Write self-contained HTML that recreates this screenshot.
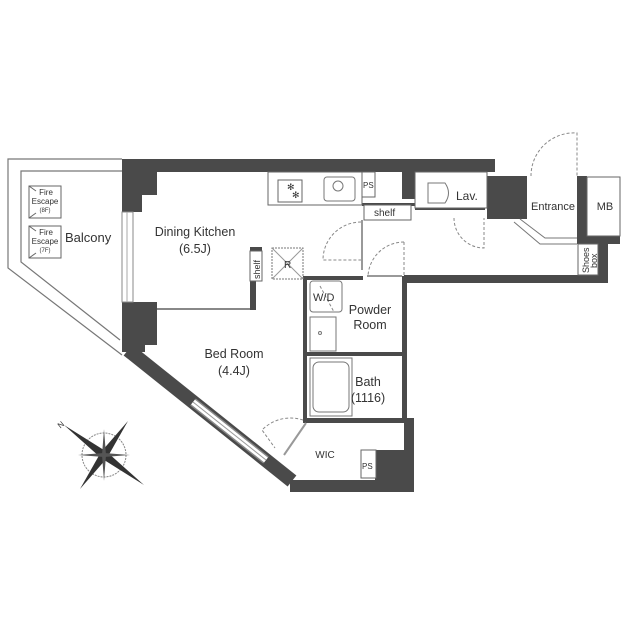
<!DOCTYPE html>
<html><head><meta charset="utf-8"><style>
body{margin:0;background:#fff}
svg{display:block}
text{font-family:"Liberation Sans",sans-serif;fill:#333}
</style></head><body>
<svg width="639" height="640" viewBox="0 0 639 640" xmlns="http://www.w3.org/2000/svg">
<!-- balcony -->
<polyline points="122,159 8,159 8,268 122,355" fill="none" stroke="#777" stroke-width="1.2"/>
<polyline points="122,171 21,171 21,262 120,340" fill="none" stroke="#777" stroke-width="1.2"/>
<g stroke="#666" fill="none" stroke-width="1">
<rect x="29" y="186" width="32" height="32"/><rect x="29" y="226" width="32" height="32"/>
<line x1="29" y1="186" x2="36" y2="191"/><line x1="29" y1="218" x2="36" y2="213"/>
<line x1="29" y1="226" x2="36" y2="231"/><line x1="29" y1="258" x2="36" y2="253"/>
</g>
<g font-size="8" text-anchor="middle" fill="#444"><text x="46" y="195">Fire</text><text x="45" y="204">Escape</text><text x="45" y="212" font-size="6">(8F)</text>
<text x="46" y="235">Fire</text><text x="45" y="244">Escape</text><text x="45" y="252" font-size="6">(7F)</text></g>
<text x="65" y="242" font-size="13">Balcony</text>
<!-- walls -->
<g fill="#4a4a4a">
<rect x="122" y="159" width="373" height="13"/>
<polygon points="122,159 157,159 157,195 142,195 142,212 122,212"/>
<polygon points="487,176 527,176 527,219 487,219"/>
<rect x="402" y="159" width="13" height="40"/>
<polygon points="122,302 157,302 157,345 145,345 145,352 122,352"/>
<rect x="290" y="480" width="124" height="12"/>
<rect x="375" y="450" width="39" height="42"/>
<rect x="404" y="420" width="10" height="72"/>
<rect x="250" y="248" width="6" height="62"/>
<rect x="250" y="247" width="12" height="4"/>
<rect x="303" y="278" width="4" height="145"/>
<rect x="303" y="276" width="60" height="4"/>
<rect x="402" y="276" width="5" height="147"/>
<rect x="303" y="418" width="111" height="5"/>
<rect x="303" y="352" width="104" height="4"/>
<rect x="404" y="275" width="204" height="8"/>
<rect x="577" y="176" width="10" height="62"/>
<rect x="577" y="236" width="43" height="8"/>
<rect x="598" y="236" width="10" height="47"/>
<rect x="415" y="206" width="70" height="4"/>
<rect x="362" y="203" width="53" height="3"/>
</g>
<line x1="128" y1="350" x2="292" y2="481" stroke="#4a4a4a" stroke-width="14"/>
<rect x="587" y="177" width="33" height="59" fill="#fff" stroke="#666"/>
<!-- window left -->
<rect x="122" y="212" width="11" height="90" fill="#fff" stroke="#888"/>
<line x1="127" y1="212" x2="127" y2="302" stroke="#aaa"/>
<!-- partition dining/bed -->
<line x1="157" y1="309" x2="250" y2="309" stroke="#888" stroke-width="2"/>
<!-- diagonal window -->
<line x1="193" y1="402" x2="266" y2="460" stroke="#888" stroke-width="9"/>
<line x1="193" y1="402" x2="266" y2="460" stroke="#fff" stroke-width="6"/>
<line x1="193" y1="402" x2="266" y2="460" stroke="#999" stroke-width="1"/>
<!-- kitchen -->
<rect x="268" y="172" width="94" height="33" fill="#fff" stroke="#666"/>
<rect x="278" y="180" width="24" height="22" fill="none" stroke="#666"/>
<text x="287" y="190" font-size="9">✻</text><text x="292" y="198" font-size="9">✻</text>
<rect x="324" y="177" width="31" height="24" rx="3" fill="none" stroke="#777"/>
<circle cx="338" cy="186" r="5" fill="none" stroke="#777"/>
<rect x="362" y="172" width="13" height="25" fill="#fff" stroke="#666"/>
<text x="363" y="188" font-size="8">PS</text>
<rect x="364" y="205" width="47" height="15" fill="#fff" stroke="#666"/>
<text x="374" y="216" font-size="10">shelf</text>
<rect x="250" y="251" width="12" height="30" fill="#fff" stroke="#666"/>
<text x="0" y="0" font-size="9" transform="translate(260,279) rotate(-90)">shelf</text>
<rect x="272" y="248" width="31" height="31" fill="none" stroke="#777" stroke-dasharray="2,1"/>
<line x1="272" y1="248" x2="303" y2="279" stroke="#999"/><line x1="303" y1="248" x2="272" y2="279" stroke="#999"/>
<text x="284" y="268" font-size="10">R</text>
<!-- doors -->
<g fill="none" stroke="#888" stroke-dasharray="3,2">
<path d="M361,222 A38,38 0 0 0 323,260 L361,260"/>
<path d="M404,242 A36,36 0 0 0 368,276"/>
<line x1="404" y1="242" x2="404" y2="276"/>
<path d="M454,218 A30,30 0 0 0 484,248 L484,218"/>
<path d="M531,176 A43,43 0 0 1 577,133 L577,176"/>
<path d="M303,420 A40,40 0 0 0 262,430 L275,448"/>
<path d="M320,286 L334,312"/>
</g>
<line x1="362" y1="220" x2="362" y2="270" stroke="#999" stroke-width="2"/>
<line x1="367" y1="276" x2="402" y2="276" stroke="#999" stroke-width="2"/>
<line x1="284" y1="455" x2="306" y2="423" stroke="#999" stroke-width="2"/>
<!-- lav -->
<rect x="415" y="172" width="72" height="36" fill="#fff" stroke="#666"/>
<path d="M428,183 L445,183 Q452,193 445,203 L428,203 Z" fill="none" stroke="#777"/>
<text x="456" y="200" font-size="12">Lav.</text>
<!-- entrance -->
<polyline points="520,219 545,238 577,238" fill="none" stroke="#777"/>
<polyline points="514,222 540,244 577,244" fill="none" stroke="#777"/>
<rect x="578" y="244" width="20" height="31" fill="#fff" stroke="#666"/>
<text font-size="9" transform="translate(589,273) rotate(-90)">Shoes</text>
<text font-size="9" transform="translate(597,268) rotate(-90)">box</text>
<!-- core -->
<rect x="310" y="281" width="32" height="31" rx="3" fill="none" stroke="#777"/>
<text x="313" y="301" font-size="11">W/D</text>
<rect x="310" y="317" width="26" height="34" fill="none" stroke="#777"/>
<circle cx="320" cy="333" r="1.5" fill="none" stroke="#777"/>
<rect x="310" y="358" width="42" height="58" fill="none" stroke="#777"/>
<rect x="313" y="362" width="36" height="50" rx="6" fill="none" stroke="#777"/>
<line x1="352" y1="358" x2="352" y2="416" stroke="#777"/>
<rect x="361" y="450" width="15" height="28" fill="#fff" stroke="#666"/>
<text x="362" y="469" font-size="8">PS</text>
<!-- labels -->
<g font-size="12.5" text-anchor="middle">
<text x="195" y="236">Dining Kitchen</text><text x="195" y="253">(6.5J)</text>
<text x="234" y="358">Bed Room</text><text x="234" y="375">(4.4J)</text>
<text x="370" y="314">Powder</text><text x="370" y="329">Room</text>
<text x="368" y="386">Bath</text><text x="368" y="402">(1116)</text>
<text x="325" y="458" font-size="10">WIC</text>
<text x="553" y="210" font-size="11">Entrance</text>
<text x="605" y="210" font-size="11">MB</text>
</g>
<!-- compass -->
<g transform="translate(104,455)">
<circle r="22" fill="none" stroke="#888" stroke-dasharray="2,1"/>
<polygon points="-40,-30 3,-3 -3,3" fill="#333"/>
<polygon points="40,30 3,-3 -3,3" fill="#333"/>
<polygon points="-24,34 3,3 -3,-3" fill="#333"/>
<polygon points="24,-34 3,3 -3,-3" fill="#333"/>
<polygon points="0,-26 2,0 -2,0" fill="#555"/><polygon points="0,26 2,0 -2,0" fill="#555"/>
<polygon points="-26,0 0,2 0,-2" fill="#555"/><polygon points="26,0 0,2 0,-2" fill="#555"/>
<text x="-46" y="-27" font-size="8" transform="rotate(-40 -44 -30)">N</text>
</g>
</svg>
</body></html>
